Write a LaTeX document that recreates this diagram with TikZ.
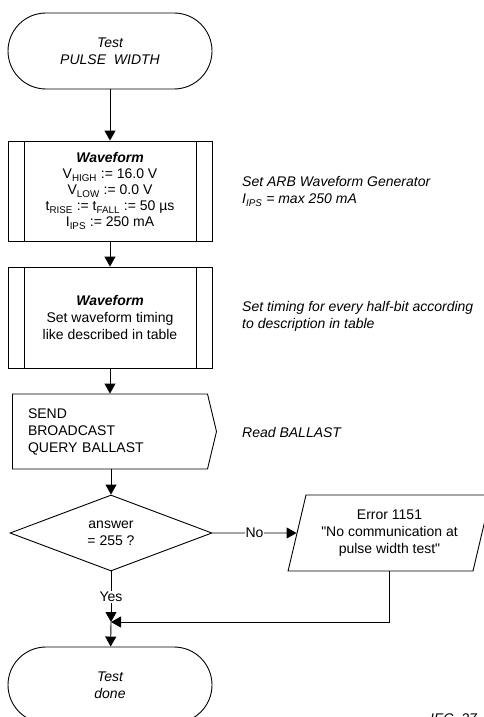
\documentclass[tikz,border=0pt]{standalone}
\usepackage{fontspec}
\setmainfont{Liberation Sans}
\usetikzlibrary{shapes.geometric, shapes.symbols, arrows.meta, positioning}
\definecolor{flowdraw}{HTML}{000000}
\newcommand\fsz{\fontsize{14pt}{17pt}\selectfont}
\tikzset{
  blk/.style={draw=flowdraw, line width=0.9pt, align=center, font=\fsz, inner sep=0pt},
  term/.style={blk, rectangle, rounded corners=38pt, minimum width=204pt, minimum height=76pt, font=\fsz\itshape},
  subproc/.style={blk, rectangle, minimum width=204pt, minimum height=100pt,
    path picture={\draw[line width=0.9pt]
      ([xshift=16pt]path picture bounding box.north west) -- ([xshift=16pt]path picture bounding box.south west)
      ([xshift=-16pt]path picture bounding box.north east) -- ([xshift=-16pt]path picture bounding box.south east);}},
  sendbox/.style={blk, signal, signal to=east, signal pointer angle=153, minimum width=204pt, minimum height=75pt, text width=164pt, align=left},
  decision/.style={blk, diamond, aspect=2.66, minimum width=202pt, minimum height=76pt},
  errbox/.style={blk, trapezium, trapezium left angle=72.5, trapezium right angle=107.5, trapezium stretches=true, minimum width=203pt, minimum height=76pt},
  note/.style={align=left, font=\fsz\itshape, inner sep=0pt},
  lab/.style={fill=white, font=\fsz, inner sep=1pt},
  arr/.style={-{Triangle[length=10pt,width=11pt]}, line width=0.9pt, draw=flowdraw},
}
\begin{document}
\begin{tikzpicture}[x=1pt, y=-1pt]
  \useasboundingbox (0,0) rectangle (483,717);
  \node[term] (start) at (110,51) {Test\\PULSE\ \ WIDTH};
  \node[subproc, font=\fontsize{14pt}{16pt}\selectfont] (wf1) at (110,191)
    {\textbf{\textit{Waveform}}\\V\textsubscript{HIGH} := 16.0 V\\V\textsubscript{LOW} := 0.0 V\\t\textsubscript{RISE} := t\textsubscript{FALL} := 50 µs\\I\textsubscript{IPS} := 250 mA};
  \node[subproc, minimum height=101pt] (wf2) at (110,317.5)
    {\textbf{\textit{Waveform}}\\Set waveform timing\\like described in table};
  \node[sendbox] (snd) at (110,431.5) {SEND\\BROADCAST\\QUERY BALLAST};
  \node[decision] (ans) at (111,533) {answer\\= 255 ?};
  \node[errbox] (err) at (389.5,533) {Error 1151\\\textquotedbl No communication at\\pulse width test\textquotedbl};
  \coordinate (join) at (111,622);
  \node[term] (done) at (110,685) {Test\\done};
  % remarks on the right
  \node[note, anchor=west] (n1) at (242,191.5) {Set ARB Waveform Generator\\I\textsubscript{IPS} = max 250 mA};
  \node[note, anchor=west] (n2) at (242,316.5) {Set timing for every half-bit according\\to description in table};
  \node[note, anchor=west] (n3) at (242,432) {Read BALLAST};
  \node[note, anchor=base west] (iec) at (430,723) {IEC~~27};
  % flow
  \draw[arr] (start) -- (wf1);
  \draw[arr] (wf1) -- (wf2);
  \draw[arr] (wf2) -- (wf2 |- snd.north);
  \draw[arr] (snd.south -| ans) -- (ans);
  \draw[arr] (ans) -- node[lab]{No} (err);
  \draw[arr] (ans) -- node[lab]{Yes} (join);
  \draw[arr] (err) |- (join);
  \draw[arr] (join) -- (done);
\end{tikzpicture}
\end{document}
